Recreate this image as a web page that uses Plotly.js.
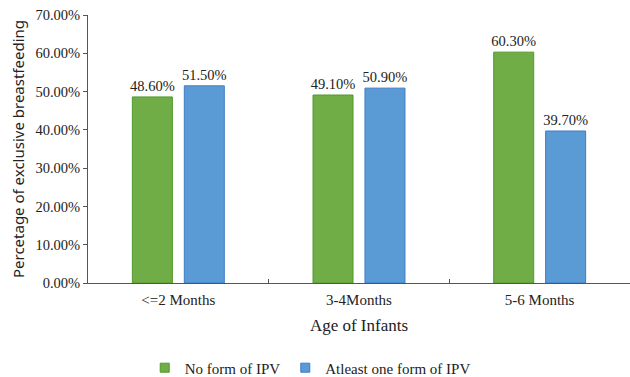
<!DOCTYPE html>
<html>
<head>
<meta charset="utf-8">
<script src="https://cdn.plot.ly/plotly-3.0.1.min.js"></script>
<style>html,body{margin:0;padding:0;background:#fff;}#chart{width:630px;height:377px;}</style>
</head>
<body>
<div id="chart"></div>
<script>
const categories = ["<=2 Months", "3-4Months", "5-6 Months"];
const noIPV = [48.6, 49.1, 60.3];
const atleastOneIPV = [51.5, 50.9, 39.7];
const seriesNames = ["No form of IPV", "Atleast one form of IPV"];
const colors = ["#70AD47", "#5B9BD5"];
const borders = ["#4E9A2A", "#3F7CC4"];

const serif = "'Liberation Serif', 'Times New Roman', serif";
const sans = "'Noto Sans', 'DejaVu Sans', sans-serif";
const seriesValues = [noIPV, atleastOneIPV];
const traces = [];
seriesValues.forEach((vals, i) => {
  traces.push({type: "bar", name: seriesNames[i], x: categories, y: vals, showlegend: false,
   legendgroup: "g" + i,
   marker: {color: colors[i], line: {color: borders[i], width: 1}},
   text: vals.map(v => v.toFixed(2) + "%"), textposition: "outside", cliponaxis: false,
   constraintext: "none",
   textfont: {family: serif, size: 14.5, color: "#222"}});
});
seriesValues.forEach((vals, i) => {
  traces.push({type: "scatter", mode: "markers", name: seriesNames[i], x: [categories[0]], y: [null],
   legendgroup: "g" + i, showlegend: true,
   marker: {symbol: "square", size: 9, color: colors[i], line: {color: borders[i], width: 1}}});
});

const layout = {
  width: 630, height: 377,
  margin: {l: 88, r: 0, t: 15, b: 94},
  paper_bgcolor: "#fff", plot_bgcolor: "#fff",
  font: {family: serif, size: 14, color: "#222"},
  barmode: "group", bargap: 0.425, bargroupgap: 0.23,
  showlegend: true,
  legend: {orientation: "h", xref: "paper", x: 0.41, xanchor: "center", yref: "container", y: 0.024, yanchor: "middle",
           font: {family: serif, size: 15, color: "#222"}, itemwidth: 30, traceorder: "normal"},
  xaxis: {
    automargin: false,
    showline: true, linecolor: "#555", linewidth: 1,
    ticks: "inside", tickson: "boundaries", ticklen: 4, tickcolor: "#555",
    ticklabelstandoff: 3,
    tickfont: {family: serif, size: 15, color: "#222"},
    title: {text: "Age of Infants", font: {family: serif, size: 17, color: "#222"}, standoff: 12},
    showgrid: false, zeroline: false
  },
  yaxis: {
    automargin: false,
    range: [0, 70], dtick: 10, tickformat: ".2f", ticksuffix: "%",
    showline: true, linecolor: "#555", linewidth: 1,
    ticks: "outside", ticklen: 4, tickcolor: "#555",
    tickfont: {family: serif, size: 14.5, color: "#222"},
    showgrid: false, zeroline: false,
    title: {text: "Percetage of exclusive breastfeeding", font: {family: sans, size: 15, color: "#222"}, standoff: 7}
  }
};

Plotly.newPlot("chart", traces, layout, {displayModeBar: false, staticPlot: true});
</script>
</body>
</html>
